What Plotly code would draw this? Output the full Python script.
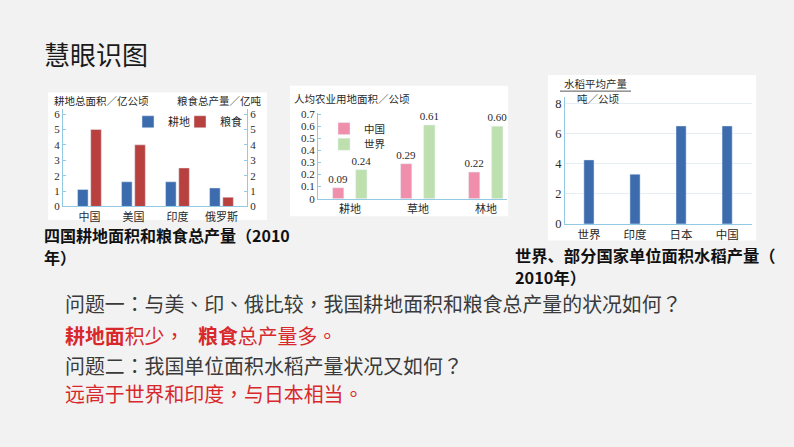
import plotly.graph_objects as go

W, H = 794, 447
def X(p): return p / W
def Y(p): return 1 - p / H

# ---------------- data ----------------
c1_countries = ["中国", "美国", "印度", "俄罗斯"]
c1_land = [1.1, 1.6, 1.6, 1.2]        # 耕地总面积/亿公顷
c1_grain = [5.0, 4.0, 2.5, 0.6]       # 粮食总产量/亿吨

c2_types = ["耕地", "草地", "林地"]
c2_china = [0.09, 0.29, 0.22]
c2_world = [0.24, 0.61, 0.60]

c3_regions = ["世界", "印度", "日本", "中国"]
c3_rice = [4.25, 3.3, 6.5, 6.5]

# ---------------- styles ----------------
BLUE = "#3c6cad"
RED = "#b8403f"
PINK = "#f08fac"
GREEN = "#bde0ae"
AXC = "#92c9e3"
TXT = "#2a2a2a"
CF = "Liberation Serif, Noto Sans CJK SC"
SANS = "Noto Sans CJK SC"
QF = "Noto Sans CJK TC"
RED_T = "#d8282c"

fig = go.Figure()

# chart 1
fig.add_trace(go.Bar(x=c1_countries, y=c1_land, name="耕地", marker_color=BLUE,
                     width=0.24, offset=-0.27, xaxis="x", yaxis="y", legend="legend"))
fig.add_trace(go.Bar(x=c1_countries, y=c1_grain, name="粮食", marker_color=RED,
                     width=0.24, offset=0.03, xaxis="x", yaxis="y2", legend="legend3"))
# chart 2
lbl_font = dict(family="Liberation Serif", size=11, color=TXT)
fig.add_trace(go.Bar(x=c2_types, y=c2_china, name="中国", marker_color=PINK,
                     width=0.165, offset=-0.255, xaxis="x2", yaxis="y3", legend="legend2",
                     texttemplate="%{y:.2f}", textposition="outside", cliponaxis=False,
                     constraintext="none", textfont=lbl_font))
fig.add_trace(go.Bar(x=c2_types, y=c2_world, name="世界", marker_color=GREEN,
                     width=0.165, offset=0.085, xaxis="x2", yaxis="y3", legend="legend4",
                     texttemplate="%{y:.2f}", textposition="outside", cliponaxis=False,
                     constraintext="none", textfont=lbl_font))
# chart 3
fig.add_trace(go.Bar(x=c3_regions, y=c3_rice, marker_color=BLUE, width=0.22,
                     xaxis="x3", yaxis="y4", showlegend=False))

tick_font = dict(family=CF, size=11, color=TXT)
common_y = dict(showline=True, linecolor=AXC, linewidth=1, showgrid=False, zeroline=False,
                ticks="inside", ticklen=3, tickcolor=AXC, tickfont=tick_font)
common_x = dict(showline=True, linecolor=AXC, linewidth=1, showgrid=False, zeroline=False,
                ticks="", tickfont=tick_font, type="category")

def leg(x, y, size=11):
    return dict(x=X(x), y=Y(y), xanchor="left", yanchor="middle", orientation="v",
                bgcolor="rgba(0,0,0,0)", font=dict(family=SANS, size=size, color=TXT),
                itemwidth=30)

fig.update_layout(
    width=W, height=H, margin=dict(l=0, r=0, t=0, b=0),
    paper_bgcolor="#f2f2f2", plot_bgcolor="rgba(0,0,0,0)",
    barmode="overlay", hovermode=False,
    xaxis=dict(common_x, domain=[X(63), X(247)], range=[-0.6, 3.58], anchor="y"),
    yaxis=dict(common_y, domain=[Y(207), Y(107)], range=[0, 6.32], dtick=1, anchor="x"),
    yaxis2=dict(common_y, range=[0, 6.32], dtick=1, overlaying="y", side="right", anchor="x"),
    xaxis2=dict(common_x, domain=[X(318), X(507)], range=[-0.47, 2.31], anchor="y3"),
    yaxis3=dict(common_y, domain=[Y(199), Y(111)], range=[0, 0.71], dtick=0.1, anchor="x2"),
    xaxis3=dict(common_x, domain=[X(565), X(752)], range=[-0.52, 3.54], anchor="y4",
                tickfont=dict(family=CF, size=11.5, color=TXT)),
    yaxis4=dict(common_y, domain=[Y(225), Y(95)], range=[0, 8.39], dtick=2, anchor="x3",
                showgrid=True, gridcolor="#e6eef2", ticks="",
                tickfont=dict(family=CF, size=12.5, color=TXT)),
    legend=leg(128, 120),
    legend3=leg(180, 120),
    legend2=leg(324, 127, 10.5),
    legend4=leg(324, 143, 10.5),
)

shapes = [
    dict(type="rect", xref="paper", yref="paper", x0=X(48), x1=X(267), y0=Y(221), y1=Y(90),
         fillcolor="white", line_width=0, layer="below"),
    dict(type="rect", xref="paper", yref="paper", x0=X(290), x1=X(508), y0=Y(217), y1=Y(83),
         fillcolor="white", line_width=0, layer="below"),
    dict(type="rect", xref="paper", yref="paper", x0=X(548), x1=X(756), y0=Y(242), y1=Y(72),
         fillcolor="white", line_width=0, layer="below"),
    dict(type="line", xref="paper", yref="paper", x0=X(560), x1=X(631), y0=Y(88.5), y1=Y(88.5),
         line=dict(color="#555", width=1)),
]
fig.update_layout(shapes=shapes)

def ann(text, x, y, size, color=TXT, family=SANS, xanchor="left"):
    return dict(text=text, x=X(x), y=Y(y), xref="paper", yref="paper", showarrow=False,
                xanchor=xanchor, yanchor="middle", font=dict(family=family, size=size, color=color))

anns = [
    ann("慧眼识图", 42, 50, 26, "#1a1a1a"),
    ann("耕地总面积／亿公顷", 52, 98, 10.5),
    ann("粮食总产量／亿吨", 264, 98, 10.5, xanchor="right"),
    ann("人均农业用地面积／公顷", 292, 96, 10.5),
    ann("水稻平均产量", 562, 81, 10.5),
    ann("吨／公顷", 575, 96, 10.5),
    ann("<b>四国耕地面积和粮食总产量（2010</b>", 42, 236, 16, "#111"),
    ann("<b>年）</b>", 42, 259, 16, "#111"),
    ann("<b>世界、部分国家单位面积水稻产量（</b>", 513, 257, 16.3, "#111"),
    ann("<b>2010年）</b>", 513, 280, 16.3, "#111"),
    ann("问题一：与美、印、俄比较，我国耕地面积和粮食总产量的状况如何？", 63, 307, 19.9, "#3a3a3a", QF),
    ann("<b>耕地面</b>积少，", 63, 340, 19.9, RED_T, QF),
    ann("<b>粮食</b>总产量多。", 196, 340, 19.9, RED_T, QF),
    ann("问题二：我国单位面积水稻产量状况又如何？", 63, 370, 19.9, "#3a3a3a", QF),
    ann("远高于世界和印度，与日本相当。", 63, 399, 19.9, RED_T, QF),
]
fig.update_layout(annotations=anns)

fig.write_html("out.html", config={"displayModeBar": False})
